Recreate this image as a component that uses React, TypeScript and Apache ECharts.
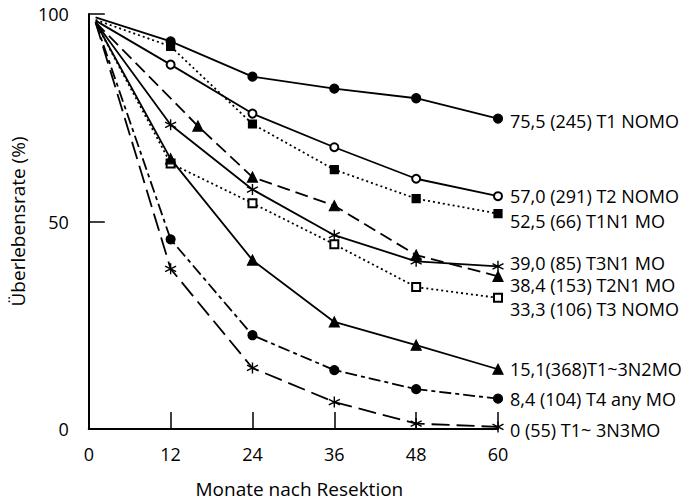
import React, { useEffect, useRef } from "react";
import * as echarts from "echarts";

// Months of follow-up (first entry = start of curve)
const months = [1, 12, 24, 36, 48, 60];
const monthsT2N1 = [1, 16, 24, 36, 48, 60];
const xTicks = [0, 12, 24, 36, 48, 60];
const yTicks = [0, 50, 100];

// Survival rates (%)
const t1N0M0 = [99.2, 93.4, 84.9, 82.0, 79.7, 74.8];
const t2N0M0 = [98.4, 87.8, 76.0, 67.9, 60.3, 56.1];
const t1N1M0 = [98.6, 92.2, 73.5, 62.5, 55.5, 51.9];
const t3N1M0 = [98.0, 73.3, 57.7, 46.7, 40.4, 39.2];
const t2N1M0 = [98.0, 73.0, 60.7, 53.8, 41.9, 36.8];
const t3N0M0 = [98.0, 64.0, 54.4, 44.5, 34.2, 31.6];
const t13N2M0 = [98.0, 65.1, 40.7, 25.8, 20.2, 14.4];
const t4anyM0 = [98.0, 45.7, 22.6, 14.2, 9.6, 7.3];
const t13N3M0 = [98.0, 38.6, 14.7, 6.5, 1.3, 0.5];

const labels = [
  "75,5 (245) T1 NOMO",
  "57,0 (291) T2 NOMO",
  "52,5 (66) T1N1 MO",
  "39,0 (85) T3N1 MO",
  "38,4 (153) T2N1 MO",
  "33,3 (106) T3 NOMO",
  "15,1(368)T1~3N2MO",
  "8,4 (104) T4 any MO",
  "0 (55) T1~ 3N3MO",
];

const FONT = "Open Sans";
const ASTERISK =
  "path://M5,0L5,10M0.67,2.5L9.33,7.5M0.67,7.5L9.33,2.5";

function mk(
  label: string,
  xs: number[],
  ys: number[],
  symbol: string,
  size: number,
  lineType: any,
  dy: number,
  stroke = false
) {
  return {
    type: "line",
    name: label,
    data: xs.map((x, i) =>
      i === 0 ? { value: [x, ys[i]], symbol: "none" } : [x, ys[i]]
    ),
    symbol,
    symbolSize: size,
    showAllSymbol: true,
    lineStyle: { color: "#000", width: 1.8, type: lineType },
    itemStyle: stroke
      ? { color: "#000", borderColor: "#000", borderWidth: 1.4 }
      : { color: "#000", borderColor: "#000", borderWidth: 1.2 },
    endLabel: {
      show: true,
      formatter: label,
      distance: 12,
      offset: [0, dy],
      color: "#000",
      fontSize: 18,
      lineHeight: 17,
      fontFamily: FONT,
    },
    emphasis: { disabled: true },
    z: 3,
  };
}

export default function App() {
  const ref = useRef<HTMLDivElement>(null);
  useEffect(() => {
    document.body.style.margin = "0";
    const chart = echarts.init(ref.current!, null, { renderer: "svg" });
    const option: any = {
      animation: false,
      backgroundColor: "#fff",
      textStyle: { fontFamily: FONT, color: "#000" },
      grid: { left: 84, right: 195, top: 14, bottom: 71, containLabel: false },
      xAxis: {
        type: "value",
        min: xTicks[0],
        max: xTicks[xTicks.length - 1],
        interval: 12,
        name: "Monate nach Resektion",
        nameLocation: "middle",
        nameGap: 50,
        nameTextStyle: { fontSize: 19, fontFamily: FONT, color: "#000", padding: [0, 0, 0, 12] },
        axisLine: { lineStyle: { color: "#000", width: 2 } },
        axisTick: { inside: true, length: 17, lineStyle: { color: "#000", width: 1.5 } },
        axisLabel: { fontSize: 18, fontFamily: FONT, color: "#000", margin: 16 },
        splitLine: { show: false },
      },
      yAxis: {
        type: "value",
        min: yTicks[0],
        max: yTicks[yTicks.length - 1],
        interval: 50,
        name: "Überlebensrate (%)",
        nameLocation: "middle",
        nameRotate: 90,
        nameGap: 52,
        nameTextStyle: { fontSize: 19, fontFamily: FONT, color: "#000" },
        axisLine: { show: true, lineStyle: { color: "#000", width: 2 } },
        axisTick: { show: true, inside: true, length: 16, lineStyle: { color: "#000", width: 1.5 } },
        axisLabel: { fontSize: 18, fontFamily: FONT, color: "#000", margin: 20 },
        splitLine: { show: false },
      },
      series: [
        mk(labels[0], months, t1N0M0, "circle", 9, "solid", 2),
        mk(labels[1], months, t2N0M0, "emptyCircle", 8, "solid", 0),
        mk(labels[2], months, t1N1M0, "rect", 8, [2, 3], 7),
        mk(labels[3], months, t3N1M0, ASTERISK, 11, "solid", -3, true),
        mk(labels[4], monthsT2N1, t2N1M0, "triangle", 10, [13, 6], 9),
        mk(labels[5], months, t3N0M0, "emptyRect", 8, [2, 3], 11),
        mk(labels[6], months, t13N2M0, "triangle", 10, "solid", 0),
        mk(labels[7], months, t4anyM0, "circle", 9, [12, 4, 4, 4], 0),
        mk(labels[8], months, t13N3M0, ASTERISK, 11, [18, 7], 3, true),
      ],
    };
    chart.setOption(option);
    return () => chart.dispose();
  }, []);
  return <div ref={ref} style={{ width: 693, height: 503 }} />;
}
